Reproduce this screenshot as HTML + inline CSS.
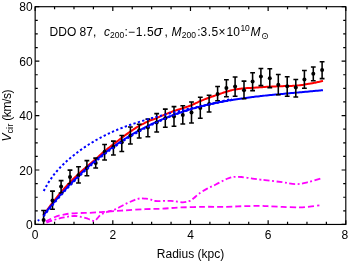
<!DOCTYPE html>
<html lang="en"><head><meta charset="utf-8"><title>DDO 87 rotation curve</title>
<style>html,body{margin:0;padding:0;background:#fff;}body{width:350px;height:262px;overflow:hidden;}svg{display:block;}text{font-family:"Liberation Sans", "DejaVu Sans", sans-serif;fill:#000;}</style>
</head><body>
<svg width="350" height="262" viewBox="0 0 350 262">
<rect x="0" y="0" width="350" height="262" fill="#fff"/>
<defs><clipPath id="plotclip"><rect x="35.15" y="6.70" width="310.65" height="217.75"/></clipPath><filter id="gray" x="0" y="0" width="350" height="262" filterUnits="userSpaceOnUse" color-interpolation-filters="sRGB"><feColorMatrix type="saturate" values="0"/></filter></defs>
<g clip-path="url(#plotclip)" fill="none">
<path d="M45.80 221.40 C46.50 221.05 48.47 220.03 50.00 219.30 C51.53 218.57 53.33 217.65 55.00 217.00 C56.67 216.35 58.33 215.85 60.00 215.40 C61.67 214.95 63.18 214.62 65.00 214.30 C66.82 213.98 68.40 213.72 70.90 213.50 C73.40 213.28 76.82 213.12 80.00 213.00 C83.18 212.88 86.67 212.93 90.00 212.80 C93.33 212.67 97.13 212.40 100.00 212.20 C102.87 212.00 103.13 211.90 107.20 211.60 C111.27 211.30 118.10 210.80 124.40 210.40 C130.70 210.00 138.70 209.48 145.00 209.20 C151.30 208.92 156.47 208.98 162.20 208.70 C167.93 208.42 172.27 207.82 179.40 207.50 C186.53 207.18 197.27 206.92 205.00 206.80 C212.73 206.68 219.47 206.90 225.80 206.80 C232.13 206.70 237.30 206.35 243.00 206.20 C248.70 206.05 255.90 205.90 260.00 205.90 C264.10 205.90 263.90 206.03 267.60 206.20 C271.30 206.37 276.90 206.72 282.20 206.90 C287.50 207.08 294.82 207.35 299.40 207.30 C303.98 207.25 306.37 206.92 309.70 206.60 C313.03 206.28 317.78 205.60 319.40 205.40" stroke="#ff00ff" stroke-width="1.8" stroke-dasharray="6 3.1"/>
<path d="M46.50 222.60 C47.42 222.27 50.08 221.23 52.00 220.60 C53.92 219.97 56.00 219.33 58.00 218.80 C60.00 218.27 62.00 217.82 64.00 217.40 C66.00 216.98 68.17 216.53 70.00 216.30 C71.83 216.07 73.33 215.93 75.00 216.00 C76.67 216.07 78.17 216.33 80.00 216.70 C81.83 217.07 84.33 217.72 86.00 218.20 C87.67 218.68 88.57 219.13 90.00 219.60 C91.43 220.07 93.35 221.23 94.60 221.00 C95.85 220.77 96.47 219.27 97.50 218.20 C98.53 217.13 99.18 215.65 100.80 214.60 C102.42 213.55 104.70 212.80 107.20 211.90 C109.70 211.00 112.93 210.43 115.80 209.20 C118.67 207.97 121.53 205.93 124.40 204.50 C127.27 203.07 130.82 201.53 133.00 200.60 C135.18 199.67 136.17 199.27 137.50 198.90 C138.83 198.53 139.75 198.45 141.00 198.40 C142.25 198.35 143.50 198.47 145.00 198.60 C146.50 198.73 148.28 198.80 150.00 199.20 C151.72 199.60 151.83 200.72 155.30 201.00 C158.77 201.28 166.22 200.68 170.80 200.90 C175.38 201.12 179.65 202.30 182.80 202.30 C185.95 202.30 187.83 201.62 189.70 200.90 C191.57 200.18 192.52 199.15 194.00 198.00 C195.48 196.85 196.40 195.57 198.60 194.00 C200.80 192.43 204.33 190.18 207.20 188.60 C210.07 187.02 212.93 185.93 215.80 184.50 C218.67 183.07 222.20 181.07 224.40 180.00 C226.60 178.93 227.57 178.60 229.00 178.10 C230.43 177.60 231.67 177.22 233.00 177.00 C234.33 176.78 235.58 176.80 237.00 176.80 C238.42 176.80 239.08 176.73 241.50 177.00 C243.92 177.27 248.42 177.97 251.50 178.40 C254.58 178.83 257.75 179.32 260.00 179.60 C262.25 179.88 261.30 179.67 265.00 180.10 C268.70 180.53 277.05 181.52 282.20 182.20 C287.35 182.88 291.60 184.20 295.90 184.20 C300.20 184.20 303.85 183.17 308.00 182.20 C312.15 181.23 318.37 179.13 320.80 178.40 C323.23 177.67 322.30 177.90 322.60 177.80" stroke="#ff00ff" stroke-width="1.8" stroke-dasharray="6 2.5 1.9 2.5"/>
<path d="M43.30 215.36 C43.59 214.95 44.47 213.73 45.06 212.91 C45.65 212.10 46.23 211.28 46.82 210.47 C47.40 209.66 47.99 208.85 48.58 208.05 C49.16 207.25 49.75 206.46 50.34 205.67 C50.92 204.88 51.51 204.09 52.10 203.31 C52.68 202.53 53.27 201.76 53.85 201.00 C54.44 200.24 55.03 199.49 55.61 198.75 C56.20 198.01 56.79 197.28 57.37 196.56 C57.96 195.84 58.55 195.13 59.13 194.43 C59.72 193.73 60.30 193.03 60.89 192.35 C61.48 191.66 62.06 190.98 62.65 190.31 C63.24 189.64 63.82 188.98 64.41 188.32 C65.00 187.66 65.58 187.01 66.17 186.37 C66.75 185.72 67.34 185.08 67.93 184.45 C68.51 183.82 69.10 183.20 69.69 182.59 C70.27 181.98 70.86 181.38 71.45 180.79 C72.03 180.19 72.62 179.60 73.21 179.02 C73.79 178.44 74.38 177.86 74.96 177.29 C75.55 176.72 76.14 176.17 76.72 175.62 C77.31 175.07 77.90 174.53 78.48 173.99 C79.07 173.46 79.66 172.92 80.24 172.39 C80.83 171.86 81.41 171.34 82.00 170.82 C82.59 170.30 83.17 169.79 83.76 169.27 C84.35 168.76 84.93 168.25 85.52 167.75 C86.11 167.24 86.69 166.74 87.28 166.24 C87.86 165.74 88.45 165.25 89.04 164.76 C89.62 164.26 90.21 163.77 90.80 163.28 C91.38 162.79 91.97 162.30 92.56 161.81 C93.14 161.32 93.73 160.84 94.31 160.34 C94.90 159.84 95.49 159.33 96.07 158.80 C96.66 158.27 97.25 157.72 97.83 157.17 C98.42 156.62 99.01 156.05 99.59 155.51 C100.18 154.96 100.76 154.43 101.35 153.91 C101.94 153.39 102.52 152.90 103.11 152.40 C103.70 151.90 104.28 151.42 104.87 150.94 C105.46 150.45 106.04 149.98 106.63 149.50 C107.21 149.03 107.80 148.56 108.39 148.09 C108.97 147.63 109.56 147.17 110.15 146.72 C110.73 146.26 111.32 145.81 111.91 145.37 C112.49 144.92 113.08 144.48 113.66 144.03 C114.25 143.59 114.84 143.15 115.42 142.70 C116.01 142.25 116.60 141.81 117.18 141.36 C117.77 140.91 118.36 140.45 118.94 140.00 C119.53 139.54 120.11 139.08 120.70 138.63 C121.29 138.18 121.87 137.72 122.46 137.28 C123.05 136.83 123.63 136.39 124.22 135.95 C124.81 135.52 125.39 135.09 125.98 134.67 C126.56 134.24 127.15 133.82 127.74 133.40 C128.32 132.99 128.91 132.57 129.50 132.16 C130.08 131.75 130.67 131.35 131.26 130.95 C131.84 130.54 132.43 130.15 133.02 129.75 C133.60 129.36 134.19 128.96 134.77 128.57 C135.36 128.18 135.95 127.79 136.53 127.42 C137.12 127.06 137.71 126.71 138.29 126.36 C138.88 126.02 139.47 125.68 140.05 125.36 C140.64 125.03 141.22 124.73 141.81 124.43 C142.40 124.13 142.98 123.84 143.57 123.56 C144.16 123.27 144.74 122.99 145.33 122.71 C145.92 122.43 146.50 122.16 147.09 121.89 C147.67 121.62 148.26 121.35 148.85 121.10 C149.43 120.84 150.02 120.58 150.61 120.35 C151.19 120.12 151.78 119.92 152.37 119.71 C152.95 119.50 153.54 119.31 154.12 119.08 C154.71 118.85 155.30 118.59 155.88 118.33 C156.47 118.08 157.06 117.82 157.64 117.56 C158.23 117.31 158.82 117.05 159.40 116.80 C159.99 116.55 160.57 116.30 161.16 116.06 C161.75 115.81 162.33 115.57 162.92 115.33 C163.51 115.08 164.09 114.84 164.68 114.60 C165.27 114.36 165.85 114.13 166.44 113.89 C167.02 113.66 167.61 113.43 168.20 113.20 C168.78 112.97 169.37 112.74 169.96 112.51 C170.54 112.29 171.13 112.06 171.72 111.85 C172.30 111.63 172.89 111.43 173.47 111.23 C174.06 111.02 174.65 110.83 175.23 110.64 C175.82 110.45 176.41 110.26 176.99 110.07 C177.58 109.89 178.17 109.71 178.75 109.53 C179.34 109.34 179.92 109.16 180.51 108.98 C181.10 108.80 181.68 108.61 182.27 108.42 C182.86 108.24 183.44 108.04 184.03 107.85 C184.62 107.65 185.20 107.45 185.79 107.24 C186.38 107.04 186.96 106.83 187.55 106.62 C188.13 106.41 188.72 106.21 189.31 105.99 C189.89 105.77 190.48 105.56 191.07 105.32 C191.65 105.08 192.24 104.81 192.83 104.54 C193.41 104.28 194.00 104.02 194.58 103.75 C195.17 103.48 195.76 103.20 196.34 102.92 C196.93 102.64 197.52 102.35 198.10 102.08 C198.69 101.81 199.28 101.56 199.86 101.31 C200.45 101.05 201.03 100.81 201.62 100.56 C202.21 100.32 202.79 100.08 203.38 99.85 C203.97 99.61 204.55 99.38 205.14 99.15 C205.73 98.92 206.31 98.70 206.90 98.48 C207.48 98.25 208.07 98.04 208.66 97.82 C209.24 97.61 209.83 97.40 210.42 97.20 C211.00 96.99 211.59 96.79 212.18 96.59 C212.76 96.39 213.35 96.19 213.93 95.99 C214.52 95.79 215.11 95.59 215.69 95.38 C216.28 95.18 216.87 94.97 217.45 94.76 C218.04 94.55 218.63 94.34 219.21 94.13 C219.80 93.92 220.38 93.70 220.97 93.50 C221.56 93.29 222.14 93.08 222.73 92.88 C223.32 92.68 223.90 92.48 224.49 92.29 C225.08 92.10 225.66 91.91 226.25 91.73 C226.83 91.54 227.42 91.36 228.01 91.19 C228.59 91.02 229.18 90.85 229.77 90.69 C230.35 90.53 230.94 90.35 231.53 90.21 C232.11 90.07 232.70 89.95 233.28 89.83 C233.87 89.71 234.46 89.62 235.04 89.52 C235.63 89.42 236.22 89.32 236.80 89.23 C237.39 89.15 237.98 89.07 238.56 88.99 C239.15 88.91 239.74 88.84 240.32 88.77 C240.91 88.70 241.49 88.63 242.08 88.57 C242.67 88.51 243.25 88.45 243.84 88.40 C244.43 88.34 245.01 88.30 245.60 88.25 C246.19 88.20 246.77 88.16 247.36 88.12 C247.94 88.08 248.53 88.04 249.12 88.00 C249.70 87.96 250.29 87.92 250.88 87.88 C251.46 87.84 252.05 87.80 252.64 87.76 C253.22 87.72 253.81 87.68 254.39 87.64 C254.98 87.60 255.57 87.57 256.15 87.53 C256.74 87.49 257.33 87.46 257.91 87.42 C258.50 87.38 259.09 87.34 259.67 87.31 C260.26 87.27 260.84 87.23 261.43 87.19 C262.02 87.15 262.60 87.11 263.19 87.07 C263.78 87.03 264.36 87.00 264.95 86.96 C265.54 86.93 266.12 86.90 266.71 86.86 C267.29 86.83 267.88 86.80 268.47 86.77 C269.05 86.74 269.64 86.70 270.23 86.67 C270.81 86.65 271.40 86.62 271.99 86.59 C272.57 86.56 273.16 86.53 273.74 86.51 C274.33 86.48 274.92 86.45 275.50 86.43 C276.09 86.40 276.68 86.37 277.26 86.35 C277.85 86.32 278.44 86.30 279.02 86.27 C279.61 86.25 280.19 86.22 280.78 86.20 C281.37 86.17 281.95 86.15 282.54 86.13 C283.13 86.10 283.71 86.08 284.30 86.07 C284.89 86.05 285.47 86.04 286.06 86.02 C286.64 86.01 287.23 85.99 287.82 85.98 C288.40 85.97 288.99 85.95 289.58 85.94 C290.16 85.92 290.75 85.90 291.34 85.88 C291.92 85.86 292.51 85.83 293.09 85.80 C293.68 85.77 294.27 85.74 294.85 85.70 C295.44 85.66 296.03 85.61 296.61 85.56 C297.20 85.50 297.79 85.44 298.37 85.38 C298.96 85.31 299.55 85.24 300.13 85.16 C300.72 85.08 301.30 85.00 301.89 84.91 C302.48 84.83 303.06 84.74 303.65 84.64 C304.24 84.55 304.82 84.46 305.41 84.36 C306.00 84.26 306.58 84.17 307.17 84.07 C307.75 83.97 308.34 83.88 308.93 83.78 C309.51 83.68 310.10 83.58 310.69 83.47 C311.27 83.37 311.86 83.26 312.45 83.15 C313.03 83.03 313.62 82.92 314.20 82.80 C314.79 82.68 315.38 82.56 315.96 82.43 C316.55 82.31 317.14 82.19 317.72 82.06 C318.31 81.94 318.90 81.81 319.48 81.68 C320.07 81.55 320.65 81.43 321.24 81.30 C321.83 81.17 322.71 80.96 323.00 80.90" stroke="#ff0000" stroke-width="2"/>
<path d="M43.30 215.54 C43.59 215.17 44.47 214.04 45.06 213.29 C45.65 212.55 46.23 211.81 46.82 211.08 C47.40 210.35 47.99 209.62 48.58 208.89 C49.16 208.17 49.75 207.45 50.34 206.74 C50.92 206.02 51.51 205.31 52.10 204.61 C52.68 203.90 53.27 203.20 53.85 202.51 C54.44 201.81 55.03 201.12 55.61 200.43 C56.20 199.75 56.79 199.07 57.37 198.39 C57.96 197.71 58.55 197.04 59.13 196.37 C59.72 195.71 60.30 195.04 60.89 194.38 C61.48 193.73 62.06 193.07 62.65 192.42 C63.24 191.77 63.82 191.13 64.41 190.49 C65.00 189.85 65.58 189.21 66.17 188.58 C66.75 187.95 67.34 187.32 67.93 186.70 C68.51 186.07 69.10 185.46 69.69 184.84 C70.27 184.23 70.86 183.62 71.45 183.01 C72.03 182.41 72.62 181.81 73.21 181.21 C73.79 180.61 74.38 180.02 74.96 179.43 C75.55 178.85 76.14 178.26 76.72 177.68 C77.31 177.10 77.90 176.53 78.48 175.96 C79.07 175.39 79.66 174.82 80.24 174.26 C80.83 173.70 81.41 173.14 82.00 172.58 C82.59 172.03 83.17 171.48 83.76 170.93 C84.35 170.39 84.93 169.84 85.52 169.31 C86.11 168.77 86.69 168.24 87.28 167.71 C87.86 167.18 88.45 166.65 89.04 166.13 C89.62 165.61 90.21 165.09 90.80 164.58 C91.38 164.06 91.97 163.55 92.56 163.05 C93.14 162.54 93.73 162.04 94.31 161.54 C94.90 161.04 95.49 160.55 96.07 160.06 C96.66 159.57 97.25 159.08 97.83 158.60 C98.42 158.12 99.01 157.64 99.59 157.16 C100.18 156.69 100.76 156.22 101.35 155.75 C101.94 155.28 102.52 154.82 103.11 154.36 C103.70 153.90 104.28 153.44 104.87 152.99 C105.46 152.54 106.04 152.09 106.63 151.65 C107.21 151.20 107.80 150.76 108.39 150.32 C108.97 149.88 109.56 149.45 110.15 149.02 C110.73 148.59 111.32 148.16 111.91 147.74 C112.49 147.32 113.08 146.90 113.66 146.48 C114.25 146.06 114.84 145.65 115.42 145.24 C116.01 144.83 116.60 144.43 117.18 144.02 C117.77 143.62 118.36 143.22 118.94 142.83 C119.53 142.43 120.11 142.04 120.70 141.65 C121.29 141.26 121.87 140.88 122.46 140.50 C123.05 140.11 123.63 139.74 124.22 139.36 C124.81 138.99 125.39 138.61 125.98 138.25 C126.56 137.88 127.15 137.51 127.74 137.15 C128.32 136.79 128.91 136.43 129.50 136.07 C130.08 135.72 130.67 135.37 131.26 135.02 C131.84 134.67 132.43 134.32 133.02 133.98 C133.60 133.64 134.19 133.30 134.77 132.96 C135.36 132.62 135.95 132.29 136.53 131.96 C137.12 131.63 137.71 131.30 138.29 130.98 C138.88 130.65 139.47 130.33 140.05 130.01 C140.64 129.70 141.22 129.38 141.81 129.07 C142.40 128.76 142.98 128.45 143.57 128.14 C144.16 127.83 144.74 127.53 145.33 127.23 C145.92 126.93 146.50 126.63 147.09 126.34 C147.67 126.04 148.26 125.75 148.85 125.46 C149.43 125.18 150.02 124.89 150.61 124.61 C151.19 124.32 151.78 124.04 152.37 123.76 C152.95 123.49 153.54 123.21 154.12 122.94 C154.71 122.67 155.30 122.40 155.88 122.13 C156.47 121.87 157.06 121.60 157.64 121.34 C158.23 121.08 158.82 120.82 159.40 120.56 C159.99 120.31 160.57 120.06 161.16 119.80 C161.75 119.55 162.33 119.31 162.92 119.06 C163.51 118.81 164.09 118.57 164.68 118.33 C165.27 118.09 165.85 117.85 166.44 117.62 C167.02 117.38 167.61 117.15 168.20 116.92 C168.78 116.69 169.37 116.46 169.96 116.24 C170.54 116.01 171.13 115.79 171.72 115.57 C172.30 115.35 172.89 115.13 173.47 114.91 C174.06 114.70 174.65 114.48 175.23 114.27 C175.82 114.06 176.41 113.85 176.99 113.64 C177.58 113.44 178.17 113.23 178.75 113.03 C179.34 112.83 179.92 112.63 180.51 112.43 C181.10 112.23 181.68 112.04 182.27 111.85 C182.86 111.65 183.44 111.46 184.03 111.27 C184.62 111.08 185.20 110.90 185.79 110.71 C186.38 110.53 186.96 110.35 187.55 110.17 C188.13 109.99 188.72 109.81 189.31 109.63 C189.89 109.46 190.48 109.28 191.07 109.11 C191.65 108.94 192.24 108.77 192.83 108.60 C193.41 108.43 194.00 108.27 194.58 108.10 C195.17 107.94 195.76 107.78 196.34 107.61 C196.93 107.45 197.52 107.30 198.10 107.14 C198.69 106.98 199.28 106.83 199.86 106.68 C200.45 106.52 201.03 106.37 201.62 106.22 C202.21 106.08 202.79 105.93 203.38 105.78 C203.97 105.64 204.55 105.49 205.14 105.35 C205.73 105.21 206.31 105.07 206.90 104.93 C207.48 104.79 208.07 104.66 208.66 104.52 C209.24 104.39 209.83 104.25 210.42 104.12 C211.00 103.99 211.59 103.86 212.18 103.73 C212.76 103.60 213.35 103.48 213.93 103.35 C214.52 103.23 215.11 103.10 215.69 102.98 C216.28 102.86 216.87 102.74 217.45 102.62 C218.04 102.50 218.63 102.38 219.21 102.27 C219.80 102.15 220.38 102.04 220.97 101.92 C221.56 101.81 222.14 101.70 222.73 101.59 C223.32 101.48 223.90 101.37 224.49 101.26 C225.08 101.15 225.66 101.05 226.25 100.94 C226.83 100.84 227.42 100.74 228.01 100.63 C228.59 100.53 229.18 100.43 229.77 100.33 C230.35 100.23 230.94 100.13 231.53 100.04 C232.11 99.94 232.70 99.84 233.28 99.75 C233.87 99.66 234.46 99.56 235.04 99.47 C235.63 99.38 236.22 99.29 236.80 99.20 C237.39 99.11 237.98 99.02 238.56 98.93 C239.15 98.84 239.74 98.76 240.32 98.67 C240.91 98.59 241.49 98.50 242.08 98.42 C242.67 98.33 243.25 98.25 243.84 98.17 C244.43 98.09 245.01 98.01 245.60 97.93 C246.19 97.85 246.77 97.77 247.36 97.70 C247.94 97.62 248.53 97.54 249.12 97.47 C249.70 97.39 250.29 97.32 250.88 97.24 C251.46 97.17 252.05 97.09 252.64 97.02 C253.22 96.95 253.81 96.88 254.39 96.81 C254.98 96.74 255.57 96.67 256.15 96.60 C256.74 96.53 257.33 96.46 257.91 96.39 C258.50 96.33 259.09 96.26 259.67 96.19 C260.26 96.13 260.84 96.06 261.43 96.00 C262.02 95.93 262.60 95.87 263.19 95.81 C263.78 95.74 264.36 95.68 264.95 95.62 C265.54 95.56 266.12 95.49 266.71 95.43 C267.29 95.37 267.88 95.31 268.47 95.25 C269.05 95.19 269.64 95.13 270.23 95.07 C270.81 95.01 271.40 94.96 271.99 94.90 C272.57 94.84 273.16 94.78 273.74 94.72 C274.33 94.67 274.92 94.61 275.50 94.55 C276.09 94.50 276.68 94.44 277.26 94.39 C277.85 94.33 278.44 94.28 279.02 94.22 C279.61 94.17 280.19 94.11 280.78 94.06 C281.37 94.00 281.95 93.95 282.54 93.89 C283.13 93.84 283.71 93.79 284.30 93.73 C284.89 93.68 285.47 93.63 286.06 93.57 C286.64 93.52 287.23 93.47 287.82 93.42 C288.40 93.36 288.99 93.31 289.58 93.26 C290.16 93.21 290.75 93.15 291.34 93.10 C291.92 93.05 292.51 93.00 293.09 92.95 C293.68 92.89 294.27 92.84 294.85 92.79 C295.44 92.74 296.03 92.69 296.61 92.63 C297.20 92.58 297.79 92.53 298.37 92.48 C298.96 92.42 299.55 92.37 300.13 92.32 C300.72 92.27 301.30 92.22 301.89 92.16 C302.48 92.11 303.06 92.06 303.65 92.01 C304.24 91.95 304.82 91.90 305.41 91.85 C306.00 91.79 306.58 91.74 307.17 91.69 C307.75 91.63 308.34 91.58 308.93 91.53 C309.51 91.47 310.10 91.42 310.69 91.36 C311.27 91.31 311.86 91.25 312.45 91.20 C313.03 91.14 313.62 91.09 314.20 91.03 C314.79 90.98 315.38 90.92 315.96 90.86 C316.55 90.81 317.14 90.75 317.72 90.69 C318.31 90.63 318.90 90.58 319.48 90.52 C320.07 90.46 320.65 90.40 321.24 90.34 C321.83 90.28 322.71 90.19 323.00 90.16" stroke="#0000ff" stroke-width="2"/>
<path d="M43.60 210.40V229.60 M41.20 210.40h4.8 M41.20 229.60h4.8 M52.50 191.10V209.20 M50.10 191.10h4.8 M50.10 209.20h4.8 M61.10 180.60V193.00 M58.70 180.60h4.8 M58.70 193.00h4.8 M70.00 170.10V183.80 M67.60 170.10h4.8 M67.60 183.80h4.8 M78.50 166.70V183.00 M76.10 166.70h4.8 M76.10 183.00h4.8 M86.90 160.60V175.80 M84.50 160.60h4.8 M84.50 175.80h4.8 M95.70 158.10V168.00 M93.30 158.10h4.8 M93.30 168.00h4.8 M104.60 144.40V159.90 M102.20 144.40h4.8 M102.20 159.90h4.8 M113.40 141.10V154.90 M111.00 141.10h4.8 M111.00 154.90h4.8 M121.80 135.50V151.40 M119.40 135.50h4.8 M119.40 151.40h4.8 M130.40 126.90V144.00 M128.00 126.90h4.8 M128.00 144.00h4.8 M139.20 124.20V138.00 M136.80 124.20h4.8 M136.80 138.00h4.8 M147.90 119.10V136.80 M145.50 119.10h4.8 M145.50 136.80h4.8 M156.70 113.60V131.90 M154.30 113.60h4.8 M154.30 131.90h4.8 M165.30 109.10V127.30 M162.90 109.10h4.8 M162.90 127.30h4.8 M174.00 106.60V126.30 M171.60 106.60h4.8 M171.60 126.30h4.8 M182.80 105.80V124.00 M180.40 105.80h4.8 M180.40 124.00h4.8 M191.50 102.00V123.00 M189.10 102.00h4.8 M189.10 123.00h4.8 M200.30 97.30V118.30 M197.90 97.30h4.8 M197.90 118.30h4.8 M209.10 95.30V111.90 M206.70 95.30h4.8 M206.70 111.90h4.8 M217.60 86.50V100.80 M215.20 86.50h4.8 M215.20 100.80h4.8 M226.40 79.80V96.70 M224.00 79.80h4.8 M224.00 96.70h4.8 M235.10 77.00V96.20 M232.70 77.00h4.8 M232.70 96.20h4.8 M244.00 81.10V98.80 M241.60 81.10h4.8 M241.60 98.80h4.8 M252.60 72.70V90.60 M250.20 72.70h4.8 M250.20 90.60h4.8 M260.90 68.40V85.60 M258.50 68.40h4.8 M258.50 85.60h4.8 M269.80 68.70V87.60 M267.40 68.70h4.8 M267.40 87.60h4.8 M278.30 74.50V94.70 M275.90 74.50h4.8 M275.90 94.70h4.8 M287.20 76.80V96.30 M284.80 76.80h4.8 M284.80 96.30h4.8 M295.80 79.40V97.00 M293.40 79.40h4.8 M293.40 97.00h4.8 M304.40 70.40V88.20 M302.00 70.40h4.8 M302.00 88.20h4.8 M313.30 67.00V80.70 M310.90 67.00h4.8 M310.90 80.70h4.8 M322.10 61.80V78.60 M319.70 61.80h4.8 M319.70 78.60h4.8" stroke="#000" stroke-width="1.55"/>
<circle cx="43.60" cy="220.00" r="2" fill="#000"/>
<circle cx="52.50" cy="200.50" r="2" fill="#000"/>
<circle cx="61.10" cy="186.50" r="2" fill="#000"/>
<circle cx="70.00" cy="177.00" r="2" fill="#000"/>
<circle cx="78.50" cy="175.30" r="2" fill="#000"/>
<circle cx="86.90" cy="168.00" r="2" fill="#000"/>
<circle cx="95.70" cy="163.00" r="2" fill="#000"/>
<circle cx="104.60" cy="151.80" r="2" fill="#000"/>
<circle cx="113.40" cy="147.10" r="2" fill="#000"/>
<circle cx="121.80" cy="142.30" r="2" fill="#000"/>
<circle cx="130.40" cy="135.50" r="2" fill="#000"/>
<circle cx="139.20" cy="130.20" r="2" fill="#000"/>
<circle cx="147.90" cy="127.60" r="2" fill="#000"/>
<circle cx="156.70" cy="122.50" r="2" fill="#000"/>
<circle cx="165.30" cy="118.20" r="2" fill="#000"/>
<circle cx="174.00" cy="116.40" r="2" fill="#000"/>
<circle cx="182.80" cy="114.90" r="2" fill="#000"/>
<circle cx="191.50" cy="112.50" r="2" fill="#000"/>
<circle cx="200.30" cy="108.00" r="2" fill="#000"/>
<circle cx="209.10" cy="103.90" r="2" fill="#000"/>
<circle cx="217.60" cy="93.90" r="2" fill="#000"/>
<circle cx="226.40" cy="88.00" r="2" fill="#000"/>
<circle cx="235.10" cy="86.40" r="2" fill="#000"/>
<circle cx="244.00" cy="90.20" r="2" fill="#000"/>
<circle cx="252.60" cy="81.60" r="2" fill="#000"/>
<circle cx="260.90" cy="76.50" r="2" fill="#000"/>
<circle cx="269.80" cy="78.20" r="2" fill="#000"/>
<circle cx="278.30" cy="84.80" r="2" fill="#000"/>
<circle cx="287.20" cy="86.30" r="2" fill="#000"/>
<circle cx="295.80" cy="87.60" r="2" fill="#000"/>
<circle cx="304.40" cy="79.40" r="2" fill="#000"/>
<circle cx="313.30" cy="73.80" r="2" fill="#000"/>
<circle cx="322.10" cy="69.90" r="2" fill="#000"/>
<circle cx="38.5" cy="220.3" r="1.1" fill="#0000ff"/>
<path d="M43.70 191.07 C43.96 190.57 44.75 189.02 45.28 188.04 C45.81 187.07 46.34 186.13 46.86 185.23 C47.39 184.32 47.92 183.44 48.45 182.60 C48.97 181.75 49.50 180.93 50.03 180.14 C50.56 179.34 51.08 178.58 51.61 177.83 C52.14 177.09 52.67 176.37 53.19 175.67 C53.72 174.98 54.25 174.30 54.78 173.65 C55.30 172.99 55.83 172.36 56.36 171.74 C56.89 171.12 57.41 170.52 57.94 169.93 C58.47 169.34 59.00 168.77 59.52 168.21 C60.05 167.64 60.58 167.10 61.11 166.56 C61.63 166.02 62.16 165.50 62.69 164.98 C63.22 164.46 63.74 163.96 64.27 163.46 C64.80 162.96 65.33 162.47 65.85 161.99 C66.38 161.51 66.91 161.03 67.44 160.57 C67.96 160.10 68.49 159.64 69.02 159.18 C69.55 158.73 70.07 158.28 70.60 157.84 C71.13 157.40 71.65 156.96 72.18 156.53 C72.71 156.10 73.24 155.67 73.76 155.25 C74.29 154.83 74.82 154.41 75.35 154.00 C75.87 153.59 76.40 153.18 76.93 152.78 C77.46 152.38 77.98 151.98 78.51 151.59 C79.04 151.20 79.57 150.81 80.09 150.43 C80.62 150.05 81.15 149.67 81.68 149.29 C82.20 148.92 82.73 148.55 83.26 148.19 C83.79 147.82 84.31 147.46 84.84 147.10 C85.37 146.75 85.90 146.40 86.42 146.05 C86.95 145.70 87.48 145.35 88.01 145.01 C88.53 144.67 89.06 144.34 89.59 144.01 C90.12 143.67 90.64 143.35 91.17 143.02 C91.70 142.70 92.23 142.38 92.75 142.06 C93.28 141.74 93.81 141.43 94.34 141.12 C94.86 140.81 95.39 140.50 95.92 140.20 C96.45 139.90 96.97 139.60 97.50 139.30 C98.03 139.01 98.55 138.72 99.08 138.43 C99.61 138.14 100.14 137.86 100.66 137.58 C101.19 137.29 101.72 137.02 102.25 136.74 C102.77 136.47 103.30 136.20 103.83 135.93 C104.36 135.66 104.88 135.40 105.41 135.13 C105.94 134.87 106.47 134.61 106.99 134.36 C107.52 134.10 108.05 133.85 108.58 133.60 C109.10 133.36 109.63 133.11 110.16 132.87 C110.69 132.62 111.21 132.39 111.74 132.15 C112.27 131.91 112.80 131.68 113.32 131.45 C113.85 131.22 114.38 130.99 114.91 130.76 C115.43 130.54 115.96 130.32 116.49 130.10 C117.02 129.88 117.54 129.66 118.07 129.44 C118.60 129.23 119.13 129.02 119.65 128.81 C120.18 128.60 120.71 128.39 121.24 128.18 C121.76 127.98 122.29 127.77 122.82 127.57 C123.35 127.37 123.87 127.17 124.40 126.97 C124.93 126.78 125.45 126.58 125.98 126.39 C126.51 126.20 127.04 126.00 127.56 125.82 C128.09 125.63 128.62 125.44 129.15 125.25 C129.67 125.07 130.20 124.88 130.73 124.70 C131.26 124.52 131.78 124.34 132.31 124.16 C132.84 123.98 133.37 123.80 133.89 123.63 C134.42 123.45 134.95 123.28 135.48 123.10 C136.00 122.93 136.53 122.76 137.06 122.59 C137.59 122.42 138.11 122.25 138.64 122.09 C139.17 121.92 139.70 121.75 140.22 121.59 C140.75 121.42 141.28 121.26 141.81 121.10 C142.33 120.94 142.86 120.78 143.39 120.62 C143.92 120.46 144.44 120.30 144.97 120.14 C145.50 119.98 146.03 119.83 146.55 119.67 C147.08 119.52 147.61 119.36 148.14 119.21 C148.66 119.06 149.19 118.91 149.72 118.76 C150.25 118.61 150.77 118.46 151.30 118.31 C151.83 118.16 152.35 118.01 152.88 117.86 C153.41 117.72 153.94 117.57 154.46 117.42 C154.99 117.28 155.52 117.13 156.05 116.99 C156.57 116.85 157.10 116.70 157.63 116.56 C158.16 116.42 158.68 116.28 159.21 116.14 C159.74 116.00 160.27 115.86 160.79 115.72 C161.32 115.58 161.85 115.44 162.38 115.30 C162.90 115.16 163.43 115.03 163.96 114.89 C164.49 114.75 165.01 114.62 165.54 114.48 C166.07 114.35 166.60 114.21 167.12 114.08 C167.65 113.94 168.18 113.81 168.71 113.68 C169.23 113.54 169.76 113.41 170.29 113.28 C170.82 113.15 171.34 113.02 171.87 112.89 C172.40 112.75 172.93 112.62 173.45 112.49 C173.98 112.36 174.51 112.23 175.04 112.10 C175.56 111.97 176.09 111.85 176.62 111.72 C177.15 111.59 177.67 111.46 178.20 111.33 C178.73 111.21 179.25 111.08 179.78 110.95 C180.31 110.82 180.84 110.70 181.36 110.57 C181.89 110.44 182.42 110.32 182.95 110.19 C183.47 110.07 184.00 109.94 184.53 109.82 C185.06 109.69 185.58 109.57 186.11 109.44 C186.64 109.32 187.17 109.19 187.69 109.07 C188.22 108.94 188.75 108.82 189.28 108.70 C189.80 108.57 190.33 108.45 190.86 108.33 C191.39 108.20 191.91 108.08 192.44 107.96 C192.97 107.83 193.50 107.71 194.02 107.59 C194.55 107.47 195.08 107.34 195.61 107.22 C196.13 107.10 196.66 106.98 197.19 106.86 C197.72 106.73 198.24 106.61 198.77 106.49 C199.30 106.37 199.83 106.25 200.35 106.12 C200.88 106.00 201.41 105.88 201.94 105.76 C202.46 105.64 202.99 105.52 203.52 105.40 C204.05 105.27 204.57 105.15 205.10 105.03 C205.63 104.91 206.15 104.79 206.68 104.67 C207.21 104.55 207.74 104.43 208.26 104.30 C208.79 104.18 209.32 104.06 209.85 103.94 C210.37 103.82 210.90 103.70 211.43 103.58 C211.96 103.46 212.48 103.33 213.01 103.21 C213.54 103.09 214.07 102.97 214.59 102.85 C215.12 102.73 215.65 102.61 216.18 102.49 C216.70 102.36 217.23 102.24 217.76 102.12 C218.29 102.00 218.81 101.88 219.34 101.76 C219.87 101.63 220.40 101.51 220.92 101.39 C221.45 101.27 221.98 101.15 222.51 101.03 C223.03 100.90 223.56 100.78 224.09 100.66 C224.62 100.54 225.14 100.41 225.67 100.29 C226.20 100.17 226.73 100.05 227.25 99.92 C227.78 99.80 228.31 99.68 228.84 99.55 C229.36 99.43 229.89 99.31 230.42 99.19 C230.95 99.06 231.74 98.88 232.00 98.81" stroke="#0000ff" stroke-width="2" stroke-dasharray="2.3 2.3"/>
<path d="M43.50 216.28 C43.82 215.88 44.77 214.66 45.40 213.86 C46.04 213.06 46.67 212.26 47.31 211.47 C47.94 210.68 48.58 209.89 49.21 209.11 C49.85 208.33 50.48 207.56 51.12 206.79 C51.75 206.02 52.39 205.26 53.02 204.50 C53.65 203.74 54.29 202.99 54.92 202.24 C55.56 201.50 56.19 200.76 56.83 200.02 C57.46 199.28 58.10 198.55 58.73 197.83 C59.37 197.10 60.00 196.38 60.64 195.67 C61.27 194.96 61.91 194.25 62.54 193.54 C63.18 192.84 63.81 192.14 64.44 191.45 C65.08 190.76 65.71 190.07 66.35 189.39 C66.98 188.70 67.62 188.03 68.25 187.35 C68.89 186.68 69.52 186.01 70.16 185.35 C70.79 184.69 71.43 184.03 72.06 183.38 C72.70 182.73 73.33 182.08 73.96 181.44 C74.60 180.80 75.23 180.16 75.87 179.53 C76.50 178.90 77.14 178.27 77.77 177.65 C78.41 177.03 79.04 176.41 79.68 175.80 C80.31 175.19 80.95 174.58 81.58 173.98 C82.22 173.38 82.85 172.78 83.48 172.19 C84.12 171.60 84.75 171.01 85.39 170.43 C86.02 169.84 86.66 169.27 87.29 168.69 C87.93 168.12 88.56 167.55 89.20 166.99 C89.83 166.42 90.47 165.86 91.10 165.31 C91.74 164.75 92.37 164.20 93.01 163.66 C93.64 163.11 94.27 162.57 94.91 162.04 C95.54 161.50 96.18 160.97 96.81 160.44 C97.45 159.92 98.08 159.39 98.72 158.87 C99.35 158.36 99.99 157.84 100.62 157.33 C101.26 156.82 101.89 156.32 102.53 155.82 C103.16 155.32 103.79 154.82 104.43 154.33 C105.06 153.84 105.70 153.35 106.33 152.87 C106.97 152.39 107.60 151.91 108.24 151.43 C108.87 150.96 109.51 150.49 110.14 150.02 C110.78 149.56 111.41 149.10 112.05 148.64 C112.68 148.18 113.31 147.73 113.95 147.28 C114.58 146.83 115.22 146.38 115.85 145.94 C116.49 145.50 117.12 145.06 117.76 144.63 C118.39 144.20 119.03 143.77 119.66 143.34 C120.30 142.92 120.93 142.50 121.57 142.08 C122.20 141.66 122.84 141.25 123.47 140.84 C124.10 140.43 124.74 140.03 125.37 139.63 C126.01 139.23 126.64 138.83 127.28 138.43 C127.91 138.04 128.55 137.65 129.18 137.26 C129.82 136.88 130.45 136.50 131.09 136.12 C131.72 135.74 132.36 135.36 132.99 134.99 C133.62 134.62 134.26 134.25 134.89 133.89 C135.53 133.53 136.16 133.17 136.80 132.81 C137.43 132.45 138.07 132.10 138.70 131.75 C139.34 131.40 139.97 131.05 140.61 130.70 C141.24 130.35 141.88 130.00 142.51 129.65 C143.14 129.30 143.78 128.96 144.41 128.62 C145.05 128.28 145.68 127.94 146.32 127.61 C146.95 127.27 147.59 126.94 148.22 126.62 C148.86 126.29 149.49 125.97 150.13 125.65 C150.76 125.33 151.40 125.01 152.03 124.70 C152.66 124.38 153.30 124.07 153.93 123.77 C154.57 123.46 155.20 123.15 155.84 122.85 C156.47 122.55 157.11 122.26 157.74 121.96 C158.38 121.67 159.01 121.38 159.65 121.09 C160.28 120.80 160.92 120.51 161.55 120.23 C162.19 119.95 162.82 119.67 163.45 119.39 C164.09 119.12 164.72 118.85 165.36 118.58 C165.99 118.30 166.63 118.04 167.26 117.77 C167.90 117.51 168.53 117.25 169.17 116.99 C169.80 116.73 170.44 116.48 171.07 116.22 C171.71 115.97 172.34 115.72 172.97 115.47 C173.61 115.23 174.24 114.98 174.88 114.74 C175.51 114.50 176.15 114.26 176.78 114.02 C177.42 113.79 178.05 113.55 178.69 113.32 C179.32 113.09 179.96 112.86 180.59 112.64 C181.23 112.41 181.86 112.19 182.49 111.97 C183.13 111.75 183.76 111.53 184.40 111.32 C185.03 111.10 185.67 110.90 186.30 110.70 C186.94 110.50 187.57 110.31 188.21 110.11 C188.84 109.92 189.48 109.73 190.11 109.54 C190.75 109.35 191.38 109.17 192.02 108.98 C192.65 108.80 193.28 108.62 193.92 108.44 C194.55 108.26 195.19 108.08 195.82 107.91 C196.46 107.73 197.09 107.56 197.73 107.39 C198.36 107.22 199.00 107.05 199.63 106.89 C200.27 106.72 200.90 106.56 201.54 106.40 C202.17 106.23 202.80 106.08 203.44 105.92 C204.07 105.76 204.71 105.61 205.34 105.45 C205.98 105.30 206.61 105.15 207.25 105.00 C207.88 104.85 208.52 104.70 209.15 104.56 C209.79 104.41 210.42 104.27 211.06 104.13 C211.69 103.99 212.32 103.85 212.96 103.71 C213.59 103.57 214.23 103.44 214.86 103.30 C215.50 103.17 216.13 103.04 216.77 102.91 C217.40 102.78 218.04 102.65 218.67 102.52 C219.31 102.40 219.94 102.27 220.58 102.15 C221.21 102.03 221.85 101.91 222.48 101.79 C223.11 101.67 223.75 101.55 224.38 101.43 C225.02 101.32 225.65 101.20 226.29 101.09 C226.92 100.97 227.56 100.86 228.19 100.75 C228.83 100.64 229.46 100.53 230.10 100.43 C230.73 100.32 231.68 100.16 232.00 100.11" stroke="#0000ff" stroke-width="2" stroke-dasharray="2.3 2.3"/>
</g>
<path d="M35.15 224.45v-4.20 M35.15 6.70v4.20 M54.57 224.45v-2.60 M54.57 6.70v2.60 M73.98 224.45v-2.60 M73.98 6.70v2.60 M93.40 224.45v-2.60 M93.40 6.70v2.60 M112.81 224.45v-4.20 M112.81 6.70v4.20 M132.23 224.45v-2.60 M132.23 6.70v2.60 M151.64 224.45v-2.60 M151.64 6.70v2.60 M171.06 224.45v-2.60 M171.06 6.70v2.60 M190.48 224.45v-4.20 M190.48 6.70v4.20 M209.89 224.45v-2.60 M209.89 6.70v2.60 M229.31 224.45v-2.60 M229.31 6.70v2.60 M248.72 224.45v-2.60 M248.72 6.70v2.60 M268.14 224.45v-4.20 M268.14 6.70v4.20 M287.55 224.45v-2.60 M287.55 6.70v2.60 M306.97 224.45v-2.60 M306.97 6.70v2.60 M326.38 224.45v-2.60 M326.38 6.70v2.60 M345.80 224.45v-4.20 M345.80 6.70v4.20 M35.15 224.45h4.20 M345.80 224.45h-4.20 M35.15 210.84h2.60 M345.80 210.84h-2.60 M35.15 197.23h2.60 M345.80 197.23h-2.60 M35.15 183.62h2.60 M345.80 183.62h-2.60 M35.15 170.01h4.20 M345.80 170.01h-4.20 M35.15 156.40h2.60 M345.80 156.40h-2.60 M35.15 142.79h2.60 M345.80 142.79h-2.60 M35.15 129.18h2.60 M345.80 129.18h-2.60 M35.15 115.57h4.20 M345.80 115.57h-4.20 M35.15 101.97h2.60 M345.80 101.97h-2.60 M35.15 88.36h2.60 M345.80 88.36h-2.60 M35.15 74.75h2.60 M345.80 74.75h-2.60 M35.15 61.14h4.20 M345.80 61.14h-4.20 M35.15 47.53h2.60 M345.80 47.53h-2.60 M35.15 33.92h2.60 M345.80 33.92h-2.60 M35.15 20.31h2.60 M345.80 20.31h-2.60 M35.15 6.70h4.20 M345.80 6.70h-4.20" stroke="#000" stroke-width="1.2" fill="none"/>
<rect x="35.15" y="6.70" width="310.65" height="217.75" fill="none" stroke="#000" stroke-width="1.15"/>
<g filter="url(#gray)">
<text x="35.15" y="238.9" font-size="12" text-anchor="middle">0</text>
<text x="112.81" y="238.9" font-size="12" text-anchor="middle">2</text>
<text x="190.48" y="238.9" font-size="12" text-anchor="middle">4</text>
<text x="268.14" y="238.9" font-size="12" text-anchor="middle">6</text>
<text x="344.80" y="238.9" font-size="12" text-anchor="middle">8</text>
<text x="32.7" y="228.95" font-size="12" text-anchor="end">0</text>
<text x="32.7" y="174.51" font-size="12" text-anchor="end">20</text>
<text x="32.7" y="120.07" font-size="12" text-anchor="end">40</text>
<text x="32.7" y="65.64" font-size="12" text-anchor="end">60</text>
<text x="32.7" y="11.20" font-size="12" text-anchor="end">80</text>
<text x="190.5" y="257.8" font-size="12" text-anchor="middle">Radius (kpc)</text>
<text transform="translate(11.0 141.5) rotate(-90)" font-size="12"><tspan font-style="italic">V</tspan><tspan font-size="9.2" dy="1.7">cir</tspan><tspan dy="-1.7" letter-spacing="-0.38"> (km/s)</tspan></text>
<text><tspan x="49.60" y="35.70" font-size="12">DDO 87,</tspan><tspan x="104.00" y="35.70" font-size="12" font-style="italic">c</tspan><tspan x="110.00" y="37.90" font-size="8.5">200</tspan><tspan x="124.40" y="35.70" font-size="12">:</tspan><tspan x="128.00" y="35.70" font-size="12">−</tspan><tspan x="135.80" y="35.70" font-size="12" letter-spacing="0.6">1.5</tspan><tspan x="153.80" y="35.70" font-size="14.5" font-style="italic">σ</tspan><tspan x="164.40" y="35.70" font-size="12">,</tspan><tspan x="171.60" y="35.70" font-size="12" font-style="italic">M</tspan><tspan x="181.80" y="37.90" font-size="8.5">200</tspan><tspan x="197.20" y="35.70" font-size="12">:</tspan><tspan x="200.60" y="35.70" font-size="12" letter-spacing="0.5">3.5</tspan><tspan x="218.40" y="35.70" font-size="12">×</tspan><tspan x="226.60" y="35.70" font-size="12">10</tspan><tspan x="240.40" y="31.10" font-size="8.5">10</tspan><tspan x="250.60" y="35.70" font-size="12" font-style="italic">M</tspan><tspan x="261.10" y="39.20" font-size="9.4">⊙</tspan></text>
</g>
</svg></body></html>
